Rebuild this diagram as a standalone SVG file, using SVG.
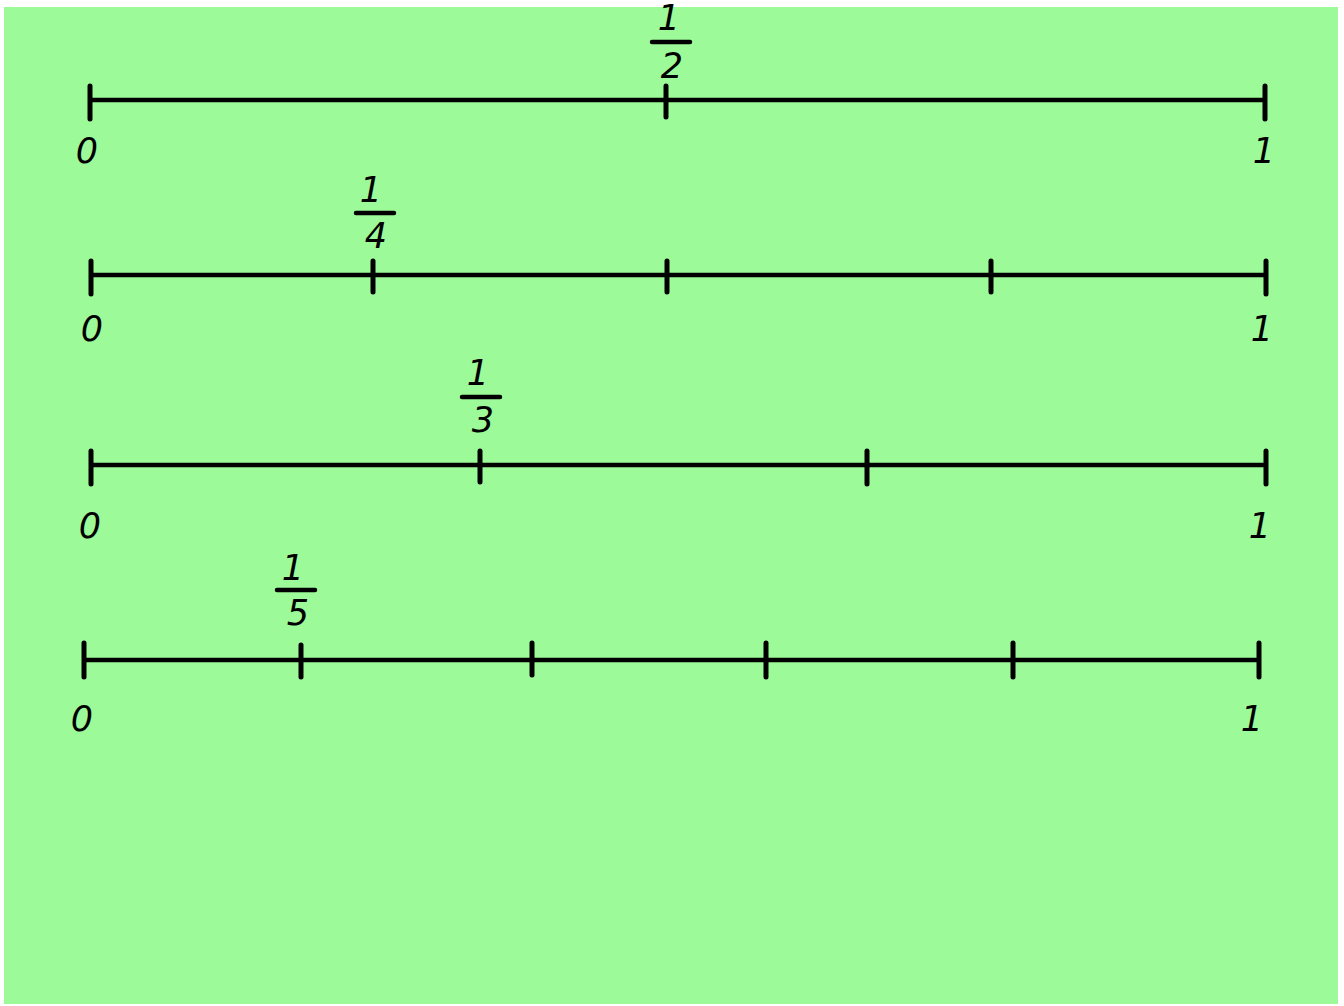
<svg xmlns="http://www.w3.org/2000/svg" width="1344" height="1006" viewBox="0 0 1344 1006">
<style>
.ax{stroke:#000;stroke-width:4.5;fill:none}
.tk{stroke:#000;stroke-width:5;stroke-linecap:round;fill:none}
.bar{stroke:#000;stroke-width:4.5;stroke-linecap:round}
.t{font-family:"DejaVu Sans",sans-serif;font-style:italic;font-size:35px;fill:#000;text-anchor:middle}
</style>
<rect x="0" y="0" width="1344" height="1006" fill="#fff"/>
<rect x="4" y="7" width="1334" height="997" fill="#9cfa99"/>
<g id="connectors">
<line class="ax" x1="90" y1="100" x2="1265" y2="100"/>
<line class="ax" x1="91" y1="275" x2="1266" y2="275"/>
<line class="ax" x1="91" y1="465" x2="1266" y2="465"/>
<line class="ax" x1="84" y1="660" x2="1259" y2="660"/>
</g>
<g id="line1">
<line class="tk" x1="90" y1="86" x2="90" y2="119"/>
<line class="tk" x1="666" y1="86" x2="666" y2="117"/>
<line class="tk" x1="1265" y1="86" x2="1265" y2="119"/>
<text class="t" x="87" y="163">0</text>
<text class="t" x="1264" y="163">1</text>
<text class="t" x="669" y="30">1</text>
<line class="bar" x1="652" y1="42" x2="690" y2="42"/>
<text class="t" x="672" y="78">2</text>
</g>
<g id="line2">
<line class="tk" x1="91" y1="261" x2="91" y2="294"/>
<line class="tk" x1="373" y1="261" x2="373" y2="292"/>
<line class="tk" x1="667" y1="261" x2="667" y2="292"/>
<line class="tk" x1="991" y1="261" x2="991" y2="292"/>
<line class="tk" x1="1266" y1="261" x2="1266" y2="294"/>
<text class="t" x="92" y="341">0</text>
<text class="t" x="1262" y="341">1</text>
<text class="t" x="371" y="202">1</text>
<line class="bar" x1="356" y1="213" x2="394" y2="213"/>
<text class="t" x="376" y="248">4</text>
</g>
<g id="line3">
<line class="tk" x1="91" y1="451" x2="91" y2="484"/>
<line class="tk" x1="480" y1="451" x2="480" y2="482"/>
<line class="tk" x1="867" y1="451" x2="867" y2="484"/>
<line class="tk" x1="1266" y1="451" x2="1266" y2="484"/>
<text class="t" x="90" y="538">0</text>
<text class="t" x="1260" y="538">1</text>
<text class="t" x="478" y="385">1</text>
<line class="bar" x1="462" y1="397" x2="500" y2="397"/>
<text class="t" x="483" y="432">3</text>
</g>
<g id="line4">
<line class="tk" x1="84" y1="643" x2="84" y2="677"/>
<line class="tk" x1="301" y1="645" x2="301" y2="677"/>
<line class="tk" x1="532" y1="643" x2="532" y2="675"/>
<line class="tk" x1="766" y1="643" x2="766" y2="677"/>
<line class="tk" x1="1013" y1="643" x2="1013" y2="677"/>
<line class="tk" x1="1259" y1="643" x2="1259" y2="677"/>
<text class="t" x="82" y="731">0</text>
<text class="t" x="1252" y="731">1</text>
<text class="t" x="293" y="580">1</text>
<line class="bar" x1="277" y1="590" x2="315" y2="590"/>
<text class="t" x="298" y="625">5</text>
</g>
</svg>
